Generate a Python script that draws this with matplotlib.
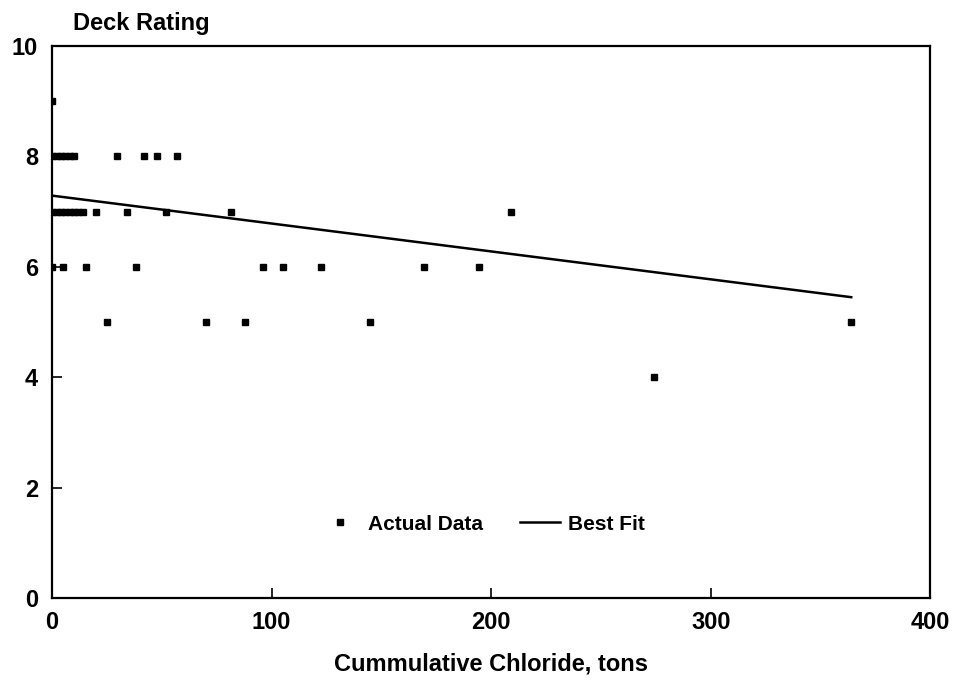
import matplotlib.pyplot as plt
import numpy as np

# Deck rating vs cumulative chloride (tons)
chloride = [0,
            0, 2, 4, 6, 8, 10, 29.6, 42, 48, 57,
            0, 2, 4, 6, 8, 10, 12, 14, 20, 34, 52, 81.5, 209,
            0, 5, 15.5, 38, 96, 105, 122.5, 169.5, 194.5,
            25, 70, 88, 145, 364,
            274]
rating = [9,
          8, 8, 8, 8, 8, 8, 8, 8, 8, 8,
          7, 7, 7, 7, 7, 7, 7, 7, 7, 7, 7, 7, 7,
          6, 6, 6, 6, 6, 6, 6, 6, 6,
          5, 5, 5, 5, 5,
          4]

# best fit line as drawn
fit_x = [0, 364]
fit_y = [7.29, 5.45]

x_ticks = [0, 100, 200, 300, 400]
y_ticks = [0, 2, 4, 6, 8, 10]

plt.rcParams['font.family'] = ['Liberation Sans', 'DejaVu Sans']
plt.rcParams['font.weight'] = 'bold'

fig = plt.figure(figsize=(9.65, 6.87), dpi=100)
ax = fig.add_axes([0.054, 0.1295, 0.91, 0.8035])

ax.plot(chloride, rating, linestyle='none', marker='s', markersize=5,
        color='black', label='Actual Data')
ax.plot(fit_x, fit_y, color='black', linewidth=1.8, label='Best Fit')

ax.set_xlim(0, 400)
ax.set_ylim(0, 10)
ax.set_xticks(x_ticks)
ax.set_yticks(y_ticks)
ax.tick_params(direction='in', length=7, width=1.2, labelsize=17, pad=10)
ax.tick_params(axis='x', pad=9)
for sp in ax.spines.values():
    sp.set_linewidth(1.6)

ax.set_xlabel('Cummulative Chloride, tons', fontsize=17, fontweight='bold', labelpad=14)
ax.text(0.024, 1.02, 'Deck Rating', transform=ax.transAxes, fontsize=17,
        fontweight='bold', ha='left', va='bottom')

ax.legend(loc='center', bbox_to_anchor=(0.49, 0.134), ncol=2, frameon=False,
          fontsize=15, handlelength=1.9, columnspacing=1.8, handletextpad=0.4)

plt.savefig('out.png', dpi=100)
